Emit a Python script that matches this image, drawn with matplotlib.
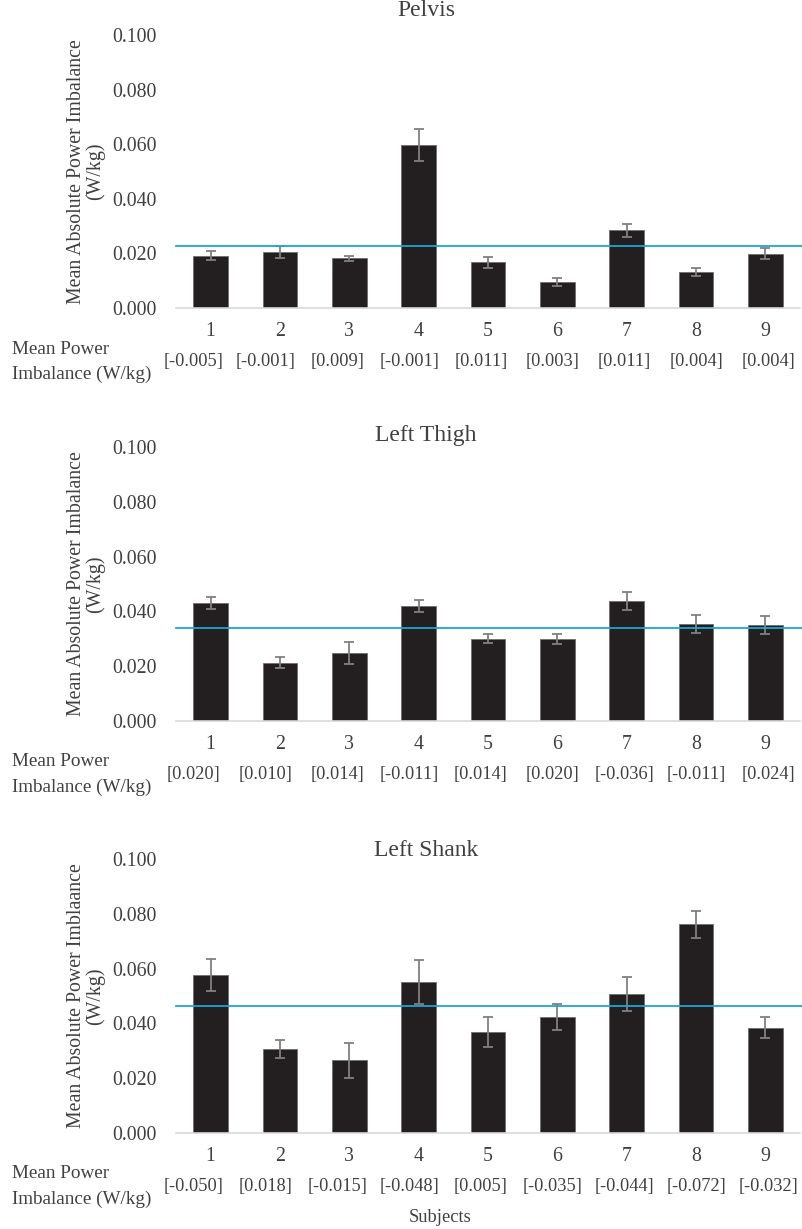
import matplotlib
matplotlib.use("Agg")
import matplotlib.pyplot as plt
import matplotlib.transforms as mtransforms

plt.rcParams['font.family'] = ['Liberation Serif', 'DejaVu Serif']

subjects = ["1", "2", "3", "4", "5", "6", "7", "8", "9"]

pelvis_abs = [0.0192, 0.0205, 0.0182, 0.0598, 0.0168, 0.0096, 0.0285, 0.0131, 0.0199]
pelvis_err = [0.0018, 0.0021, 0.0009, 0.0058, 0.0020, 0.0015, 0.0024, 0.0014, 0.0020]
pelvis_mean_line = 0.0228
pelvis_signed = ["[-0.005]", "[-0.001]", "[0.009]", "[-0.001]", "[0.011]",
                 "[0.003]", "[0.011]", "[0.004]", "[0.004]"]

thigh_abs = [0.0432, 0.0213, 0.0249, 0.0418, 0.0300, 0.0299, 0.0438, 0.0355, 0.0352]
thigh_err = [0.0022, 0.0019, 0.0040, 0.0022, 0.0016, 0.0018, 0.0032, 0.0033, 0.0033]
thigh_mean_line = 0.0339
thigh_signed = ["[0.020]", "[0.010]", "[0.014]", "[-0.011]", "[0.014]",
                "[0.020]", "[-0.036]", "[-0.011]", "[0.024]"]

shank_abs = [0.0576, 0.0307, 0.0266, 0.0551, 0.0368, 0.0422, 0.0507, 0.0761, 0.0384]
shank_err = [0.0058, 0.0034, 0.0064, 0.0082, 0.0055, 0.0047, 0.0063, 0.0051, 0.0038]
shank_mean_line = 0.0462
shank_signed = ["[-0.050]", "[0.018]", "[-0.015]", "[-0.048]", "[0.005]",
                "[-0.035]", "[-0.044]", "[-0.072]", "[-0.032]"]

yticks = [0.0, 0.02, 0.04, 0.06, 0.08, 0.10]
ytick_labels = ["0.000", "0.020", "0.040", "0.060", "0.080", "0.100"]

W, H = 803, 1229
fig = plt.figure(figsize=(W / 100, H / 100), dpi=100)

BAR = "#231f20"
ERR = "#808080"
LINE = "#1ea5d6"
TXT = "#404040"
FS = 14.3
FS_BRACKET = 13.2
FS_ROWLABEL = 13.8

panels = [
    dict(title="Pelvis", vals=pelvis_abs, errs=pelvis_err, mean=pelvis_mean_line,
         signed=pelvis_signed, top=35, bottom=308,
         ylabel="Mean Absolute Power Imbalance\n(W/kg)",
         mp_y=(349, 374), title_y=10),
    dict(title="Left Thigh", vals=thigh_abs, errs=thigh_err, mean=thigh_mean_line,
         signed=thigh_signed, top=447, bottom=721,
         ylabel="Mean Absolute Power Imbalance\n(W/kg)",
         mp_y=(762, 787), title_y=436),
    dict(title="Left Shank", vals=shank_abs, errs=shank_err, mean=shank_mean_line,
         signed=shank_signed, top=859, bottom=1133,
         ylabel="Mean Absolute Power Imblaance\n(W/kg)",
         mp_y=(1173, 1199), title_y=850),
]

# the bracketed row is laid out a little wider than the bar spacing
bracket_start, bracket_step = -0.245, 1.036

left_px, right_px = 176, 800
for p in panels:
    ax = fig.add_axes([left_px / W, 1 - p["bottom"] / H,
                       (right_px - left_px) / W, (p["bottom"] - p["top"]) / H])
    x = list(range(len(subjects)))
    ax.bar(x, p["vals"], width=0.5, color=BAR, edgecolor="#6e6e6e", linewidth=0.6,
           zorder=2)
    ax.errorbar(x, p["vals"], yerr=p["errs"], fmt="none", ecolor=ERR,
                elinewidth=1.3, capsize=3.5, capthick=1.3, zorder=3)
    ax.axhline(p["mean"], color=LINE, linewidth=1.3, zorder=4, clip_on=False,
               xmax=1.01)
    ax.set_xlim(-0.5, 8.5)
    ax.set_ylim(0, 0.1)
    ax.set_yticks(yticks)
    ax.set_yticklabels(ytick_labels, fontsize=FS, color=TXT)
    ax.set_xticks(x)
    ax.set_xticklabels(subjects, fontsize=FS, color=TXT)
    ax.tick_params(axis="both", length=0)
    ax.tick_params(axis="x", pad=10)
    ax.tick_params(axis="y", pad=14)
    for s in ("top", "right", "left"):
        ax.spines[s].set_visible(False)
    ax.spines["bottom"].set_color("#d9d9d9")
    ax.spines["bottom"].set_linewidth(1.2)
    ax.set_ylabel(p["ylabel"], fontsize=FS, color=TXT, linespacing=1.0)
    ax.yaxis.set_label_coords(-0.113, 0.5)

    fig.text(426 / W, 1 - p["title_y"] / H, p["title"],
             ha="center", va="center", fontsize=17, color=TXT)

    trans = mtransforms.blended_transform_factory(ax.transData, fig.transFigure)
    by = 1 - (p["mp_y"][0] + p["mp_y"][1]) / 2 / H
    for i, lab in enumerate(p["signed"]):
        ax.text(bracket_start + i * bracket_step, by, lab, transform=trans,
                ha="center", va="center", fontsize=FS_BRACKET, color=TXT)
    fig.text(12 / W, 1 - p["mp_y"][0] / H, "Mean Power", ha="left", va="center",
             fontsize=FS_ROWLABEL, color=TXT)
    fig.text(12 / W, 1 - p["mp_y"][1] / H, "Imbalance (W/kg)", ha="left",
             va="center", fontsize=FS_ROWLABEL, color=TXT)

fig.text(440 / W, 1 - 1218 / H, "Subjects", ha="center", va="center",
         fontsize=FS - 1, color=TXT)

fig.savefig("out.png", dpi=100, facecolor="white")
